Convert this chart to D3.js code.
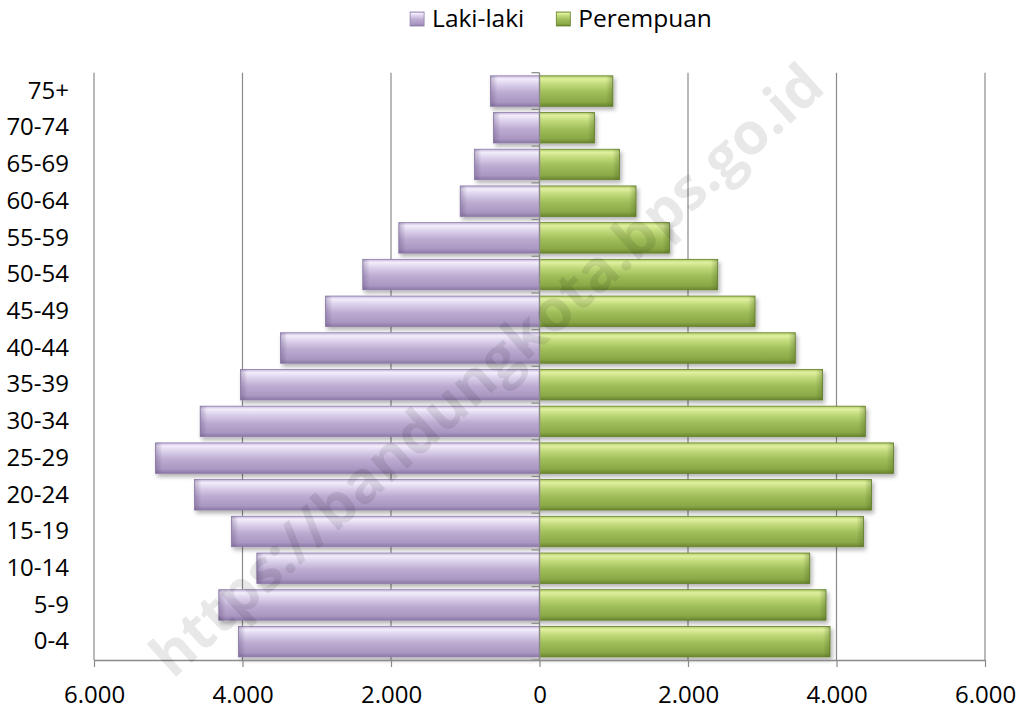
<!DOCTYPE html>
<html>
<head>
<meta charset="utf-8">
<script src="https://cdn.jsdelivr.net/npm/d3@7"></script>
<style>
  body { margin: 0; background: #fff; }
  svg text { font-family: "Open Sans", "Noto Sans", sans-serif; fill: #000; }
</style>
</head>
<body>
<div id="chart"></div>
<script>
// age groups, top to bottom as drawn
const ageGroups = ['75+', '70-74', '65-69', '60-64', '55-59', '50-54', '45-49', '40-44',
  '35-39', '30-34', '25-29', '20-24', '15-19', '10-14', '5-9', '0-4'];
const lakiLaki = [660, 620, 875, 1068, 1895, 2380, 2882, 3488,
  4027, 4570, 5172, 4646, 4148, 3807, 4319, 4054];
const perempuan = [988, 740, 1077, 1300, 1750, 2400, 2903, 3445,
  3813, 4388, 4769, 4472, 4364, 3640, 3859, 3913];
const xTicks = [-6000, -4000, -2000, 0, 2000, 4000, 6000];
const seriesNames = ['Laki-laki', 'Perempuan'];

const W = 1022, H = 710;
const svg = d3.select('#chart').append('svg')
  .attr('width', W)
  .attr('height', H);

const defs = svg.append('defs');

function vGrad(id, stops) {
  const g = defs.append('linearGradient').attr('id', id)
    .attr('x1', 0).attr('y1', 0).attr('x2', 0).attr('y2', 1);
  stops.forEach(s => g.append('stop').attr('offset', s[0]).attr('stop-color', s[1]));
}
vGrad('purpleV', [[0, '#c6b8dc'], [0.1, '#f3edfb'], [0.28, '#dbd0eb'], [0.55, '#bcabd1'], [0.86, '#aa97c2'], [1, '#8b78a5']]);
vGrad('greenV', [[0, '#b0cb66'], [0.1, '#e0f09f'], [0.28, '#c0d979'], [0.55, '#9fbd59'], [0.86, '#8aa846'], [1, '#6a852f']]);

// end bevel (darkens toward the outer edge)
function hGrad(id, dir, color) {
  const g = defs.append('linearGradient').attr('id', id)
    .attr('x1', dir > 0 ? 0 : 1).attr('y1', 0).attr('x2', dir > 0 ? 1 : 0).attr('y2', 0);
  g.append('stop').attr('offset', 0).attr('stop-color', color).attr('stop-opacity', 0);
  g.append('stop').attr('offset', 1).attr('stop-color', color).attr('stop-opacity', 0.35);
}
hGrad('purpleEnd', -1, '#5e4c7a');
hGrad('greenEnd', 1, '#4a6320');

const shadow = defs.append('filter').attr('id', 'shadow')
  .attr('x', '-5%').attr('y', '-20%').attr('width', '115%').attr('height', '160%');
shadow.append('feDropShadow').attr('dx', 2).attr('dy', 3).attr('stdDeviation', 2)
  .attr('flood-color', '#000').attr('flood-opacity', 0.3);

const x = d3.scaleLinear().domain([-6000, 6000]).range([94, 985]);
const y = d3.scaleBand().domain(ageGroups).range([72.7, 660])
  .paddingInner(0.17).paddingOuter(0.085);

const dotLocale = d3.formatLocale({ decimal: ',', thousands: '.', grouping: [3], currency: ['', ''] });
const fmt = dotLocale.format(',');

// gridlines
svg.append('g')
  .selectAll('line')
  .data(xTicks.filter(d => d !== 0))
  .join('line')
  .attr('x1', d => x(d)).attr('x2', d => x(d))
  .attr('y1', y.range()[0]).attr('y2', y.range()[1])
  .attr('stroke', '#8a8a8a')
  .attr('stroke-width', 1.2);

// bars
const rows = ageGroups.map((a, i) => ({ age: a, m: lakiLaki[i], f: perempuan[i] }));
const bars = svg.append('g').attr('filter', 'url(#shadow)');

bars.selectAll('rect.m')
  .data(rows)
  .join('rect')
  .attr('class', 'm')
  .attr('x', d => x(-d.m))
  .attr('y', d => y(d.age))
  .attr('width', d => x(0) - x(-d.m))
  .attr('height', y.bandwidth())
  .attr('fill', 'url(#purpleV)')
  .attr('stroke', '#8f7daa')
  .attr('stroke-width', 0.8);

bars.selectAll('rect.f')
  .data(rows)
  .join('rect')
  .attr('class', 'f')
  .attr('x', x(0))
  .attr('y', d => y(d.age))
  .attr('width', d => x(d.f) - x(0))
  .attr('height', y.bandwidth())
  .attr('fill', 'url(#greenV)')
  .attr('stroke', '#65802c')
  .attr('stroke-width', 0.8);

// chamfered outer ends
svg.append('g').selectAll('rect')
  .data(rows)
  .join('rect')
  .attr('x', d => x(-d.m))
  .attr('y', d => y(d.age))
  .attr('width', 7)
  .attr('height', y.bandwidth())
  .attr('fill', 'url(#purpleEnd)');

svg.append('g').selectAll('rect')
  .data(rows)
  .join('rect')
  .attr('x', d => x(d.f) - 7)
  .attr('y', d => y(d.age))
  .attr('width', 7)
  .attr('height', y.bandwidth())
  .attr('fill', 'url(#greenEnd)');

// x axis
const xAxis = svg.append('g')
  .attr('transform', `translate(0,${y.range()[1]})`)
  .call(d3.axisBottom(x).tickValues(xTicks).tickFormat(d => fmt(Math.abs(d)))
    .tickSize(7).tickSizeOuter(0).tickPadding(19));
xAxis.select('.domain').attr('stroke', '#8a8a8a').attr('stroke-width', 1.4);
xAxis.selectAll('.tick line').attr('stroke', '#8a8a8a').attr('stroke-width', 1.2);
xAxis.selectAll('text').style('font-size', '24px').attr('fill', '#000');

// centre axis with ticks at band boundaries
const step = y.step();
const boundaries = ageGroups.map(a => y(a) - (step - y.bandwidth()) / 2);
boundaries.push(y.range()[1]);
const cAxis = svg.append('g');
cAxis.append('line')
  .attr('x1', x(0)).attr('x2', x(0))
  .attr('y1', y.range()[0]).attr('y2', y.range()[1])
  .attr('stroke', '#8a8a8a').attr('stroke-width', 1.4);
cAxis.selectAll('line.t')
  .data(boundaries)
  .join('line')
  .attr('class', 't')
  .attr('x1', x(0) - 8).attr('x2', x(0))
  .attr('y1', d => d).attr('y2', d => d)
  .attr('stroke', '#8a8a8a').attr('stroke-width', 1.2);

// age labels
const yAxis = svg.append('g')
  .attr('transform', `translate(${x(-6000)},0)`)
  .call(d3.axisLeft(y).tickSize(0).tickPadding(25));
yAxis.select('.domain').remove();
yAxis.selectAll('text').style('font-size', '24px').attr('fill', '#000');

// legend
const legend = svg.append('g');
const colors = ['url(#purpleV)', 'url(#greenV)'];
const strokes = ['#8f7daa', '#65802c'];
let lx = 0;
seriesNames.forEach((name, i) => {
  const g = legend.append('g');
  g.append('rect').attr('x', 0).attr('y', 12).attr('width', 14).attr('height', 14)
    .attr('fill', colors[i]).attr('stroke', strokes[i]).attr('stroke-width', 0.8);
  const t = g.append('text').attr('x', 22).attr('y', 27).text(name).style('font-size', '24.5px');
  const w = 22 + t.node().getComputedTextLength();
  g.attr('transform', `translate(${lx},0)`);
  lx += w + 32;
});
const legendW = lx - 32;
legend.attr('transform', `translate(${561 - legendW / 2},0)`);

// watermark
svg.append('text')
  .attr('transform', 'translate(500,385) rotate(-42)')
  .attr('text-anchor', 'middle')
  .style('font-size', '58px')
  .style('font-weight', 'bold')
  .style('fill', '#000')
  .style('opacity', 0.085)
  .text('https://bandungkota.bps.go.id');
</script>
</body>
</html>
